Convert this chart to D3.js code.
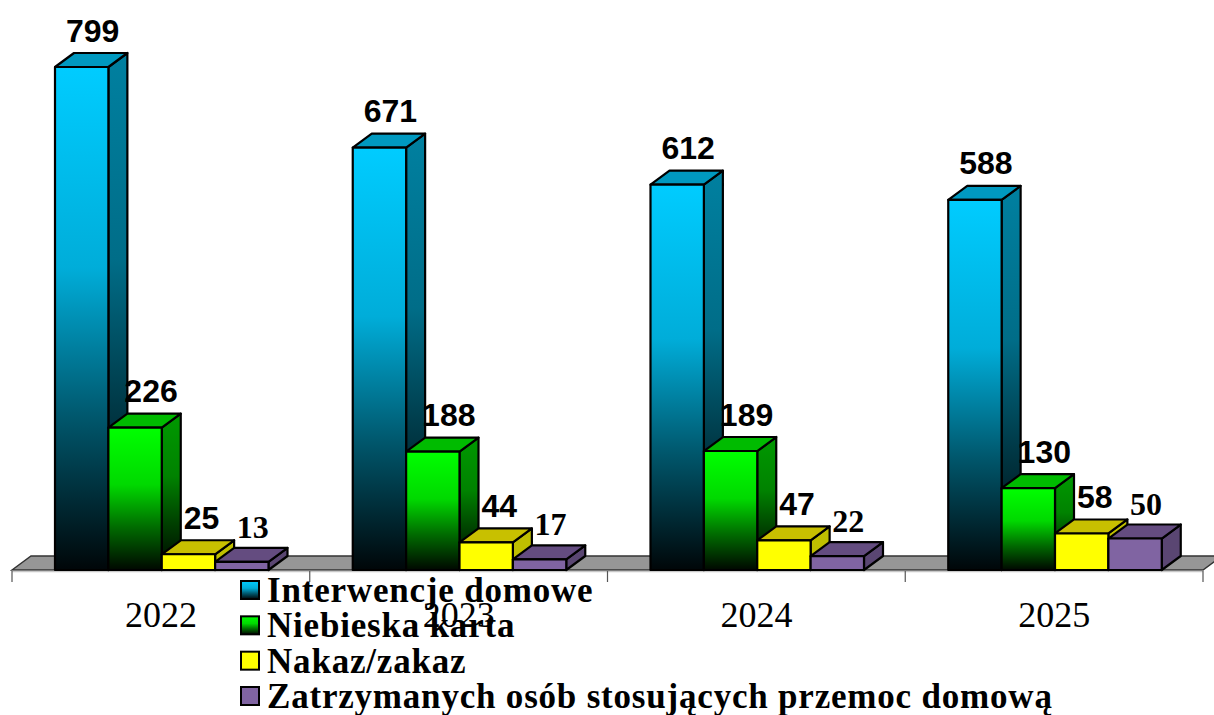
<!DOCTYPE html>
<html lang="pl">
<head>
<meta charset="UTF-8">
<title>Interwencje domowe 2022-2025</title>
<script src="https://d3js.org/d3.v7.min.js"></script>
<style>
    html, body { margin: 0; padding: 0; background: #fff; }
    svg { display: block; }
    .opis { font-family: "Liberation Sans", sans-serif; font-weight: bold; font-size: 32px; text-anchor: middle; fill: #000; }
    .opis.szeryf { font-family: "Liberation Serif", serif; font-size: 32px; }
    .rok { font-family: "Liberation Serif", serif; font-size: 36px; text-anchor: middle; fill: #000; }
    .legenda { font-family: "Liberation Serif", serif; font-weight: bold; font-size: 35px; letter-spacing: 0.8px; fill: #000; }
</style>
</head>
<body>
<svg id="wykres" width="1214" height="715"></svg>
<script>
const lata = ['2022', '2023', '2024', '2025'];
const serie = ['Interwencje domowe', 'Niebieska karta', 'Nakaz/zakaz', 'Zatrzymanych osób stosujących przemoc domową'];
const interwencje = [799, 671, 612, 588];
const karty = [226, 188, 189, 130];
const nakazy = [25, 44, 47, 58];
const zatrzymani = [13, 17, 22, 50];
const wartosci = [interwencje, karty, nakazy, zatrzymani];

// kolory: przod (gora gradientu), bok, wierzch
const kolory = [
    { przod: '#00ccff', bok: '#0080a0', wierzch: '#0099c0', gradient: true },
    { przod: '#00ff00', bok: '#009900', wierzch: '#00bb00', gradient: true },
    { przod: '#ffff00', bok: '#bfbf00', wierzch: '#c8c000', gradient: false },
    { przod: '#8064a2', bok: '#5a4672', wierzch: '#644c80', gradient: false }
];
// jak szybko gradient schodzi do czerni
const stopnie = [[0, 1], [0.4, 0.85], [0.7, 0.42], [1, 0.03]];
const dx = 19, dy = -14;
const dolny = 570;
const przesuniecia = [11, 16, 13, 11];

const svg = d3.select('#wykres');
const fnY = d3.scaleLinear().domain([0, 799]).range([dolny, 67]);
const fnX = d3.scaleBand().domain(lata).range([12, 1203]);
const fnS = d3.scaleBand().domain(d3.range(4)).range([43, 256.5]);

const defs = svg.append('defs');
function gradient(id, kolor, czyGradient) {
    const g = defs.append('linearGradient').attr('id', id).attr('x1', 0).attr('y1', 0).attr('x2', 0).attr('y2', 1);
    stopnie.forEach(([p, jasnosc]) => {
        g.append('stop')
            .attr('offset', p)
            .attr('stop-color', czyGradient ? d3.interpolateRgb('#000', kolor)(jasnosc) : kolor);
    });
}
kolory.forEach((k, i) => {
    gradient('przod' + i, k.przod, k.gradient);
    gradient('bok' + i, k.bok, k.gradient);
});

// podloga
const [x0, x1] = fnX.range();
svg.append('path')
    .attr('d', `M${x0},${dolny}L${x0 + dx},${dolny + dy}L${x1 + dx},${dolny + dy}L${x1},${dolny}Z`)
    .attr('fill', '#969696').attr('stroke', '#333').attr('stroke-width', 1.5);
svg.append('line').attr('x1', x0).attr('x2', x1).attr('y1', dolny + 1.5).attr('y2', dolny + 1.5)
    .attr('stroke', '#c8c8c8').attr('stroke-width', 1.5);

// podzialki
const granice = lata.map(r => fnX(r)).concat([x1]);
svg.selectAll('.podzialka').data(granice).enter().append('line')
    .classed('podzialka', true)
    .attr('x1', d => d).attr('x2', d => d)
    .attr('y1', dolny + 1).attr('y2', dolny + 12)
    .attr('stroke', '#555').attr('stroke-width', 1.2);

svg.selectAll('.rok').data(lata).enter().append('text')
    .classed('rok', true)
    .attr('x', d => fnX(d) + fnX.bandwidth() / 2)
    .attr('y', 627)
    .text(d => d);

// slupki 3d
lata.forEach((rok, r) => {
    const grupa = svg.append('g').attr('transform', `translate(${fnX(rok)},0)`);
    wartosci.forEach((seria, s) => {
        const w = fnS.bandwidth(), x = fnS(s), y = fnY(seria[r]);
        const kontur = g => g.attr('stroke', '#000').attr('stroke-width', 2.2).attr('stroke-linejoin', 'round');
        grupa.append('path')
            .attr('d', `M${x + w},${y}L${x + w + dx},${y + dy}L${x + w + dx},${dolny + dy}L${x + w},${dolny}Z`)
            .attr('fill', `url(#bok${s})`).call(kontur);
        grupa.append('path')
            .attr('d', `M${x},${y}L${x + dx},${y + dy}L${x + w + dx},${y + dy}L${x + w},${y}Z`)
            .attr('fill', kolory[s].wierzch).call(kontur);
        grupa.append('rect')
            .attr('x', x).attr('y', y).attr('width', w).attr('height', dolny - y)
            .attr('fill', `url(#przod${s})`).call(kontur);
    });
});

// opisy wartosci
lata.forEach((rok, r) => {
    wartosci.forEach((seria, s) => {
        svg.append('text')
            .attr('class', s === 3 ? 'opis szeryf' : 'opis')
            .attr('x', fnX(rok) + fnS(s) + fnS.bandwidth() / 2 + przesuniecia[s])
            .attr('y', fnY(seria[r]) + dy - (s === 3 ? 10 : 11.5))
            .text(seria[r]);
    });
});

// legenda
const legendaY = d3.scalePoint().domain(serie).range([602, 708]);
const wpis = svg.selectAll('.wpis').data(serie).enter().append('g').classed('wpis', true);
wpis.append('rect')
    .attr('x', 241).attr('y', d => legendaY(d) - 21)
    .attr('width', 18).attr('height', 18)
    .attr('fill', (d, i) => `url(#przod${i})`)
    .attr('stroke', '#000').attr('stroke-width', 2);
wpis.append('text')
    .classed('legenda', true)
    .attr('x', 267).attr('y', d => legendaY(d))
    .text(d => d);
</script>
</body>
</html>
